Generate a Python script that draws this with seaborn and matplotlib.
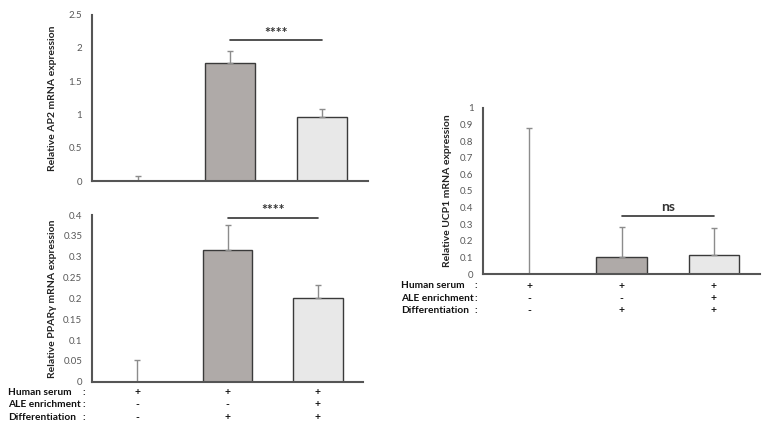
import numpy as np
import pandas as pd
import matplotlib
matplotlib.use("Agg")
import matplotlib.pyplot as plt
import seaborn as sns

# --- Data ---
groups = ["ctrl", "serum", "ale"]
ap2_mean = [0.0, 1.78, 0.97]
ap2_err = [0.08, 0.17, 0.11]
ppar_mean = [0.0, 0.317, 0.200]
ppar_err = [0.052, 0.058, 0.033]
ucp1_mean = [0.0, 0.106, 0.114]
ucp1_err = [0.88, 0.176, 0.166]

row_labels = ["Human serum", "ALE enrichment", "Differentiation"]
row_signs = [["+", "+", "+"], ["-", "-", "+"], ["-", "+", "+"]]

bar_colors = ["#ffffff", "#b0aaa7", "#e8e8e8"]
GREY = "#595959"

sns.set_theme(style="white")
plt.rcParams["font.family"] = ["Lato", "DejaVu Sans"]


def draw_panel(ax, means, errs, ylim, yticks, ylabel, label_x, sig_y, sig_text, text_dy):
    df = pd.DataFrame({"group": groups, "value": means})
    sns.barplot(data=df, x="group", y="value", hue="group", palette=bar_colors,
                width=0.55, edgecolor="#3a3a3a", linewidth=1.0, legend=False, ax=ax)
    # first group has zero height: hide its outline
    ax.patches[0].set_visible(False)
    x = np.arange(len(groups))
    ax.errorbar(x, means, yerr=[np.zeros(len(errs)), errs], fmt="none",
                ecolor="#8c8c8c", elinewidth=1.0, capsize=2.2, capthick=1.0, zorder=1)
    ax.plot([1, 2], [sig_y, sig_y], color="#333333", lw=1.2)
    ax.text(1.5, sig_y + text_dy, sig_text, ha="center", va="bottom",
            fontsize=10, fontweight="bold", color="#333333")
    ax.set_xlim(-0.5, 2.5)
    ax.set_ylim(*ylim)
    ax.set_yticks(yticks)
    ax.set_yticklabels([f"{t:g}" for t in yticks], fontsize=7, color=GREY)
    ax.set_xticks([])
    ax.set_xlabel("")
    ax.set_ylabel(ylabel, fontsize=7.5, fontweight="bold", color="#222222")
    ax.yaxis.set_label_coords(label_x, 0.5)
    ax.tick_params(axis="y", length=0, pad=7)
    sns.despine(ax=ax)
    for s in ["left", "bottom"]:
        ax.spines[s].set_color("#555555")
        ax.spines[s].set_linewidth(1.5)


def draw_table(fig, ax, label_x, colon_x, row_ys):
    for i, (lab, signs) in enumerate(zip(row_labels, row_signs)):
        fig.text(label_x, row_ys[i], lab, fontsize=7.3, fontweight="bold",
                 color="#111111", va="center", ha="left")
        fig.text(colon_x, row_ys[i], ":", fontsize=7.3, fontweight="bold",
                 color="#111111", va="center", ha="center")
        for j, s in enumerate(signs):
            xd = ax.transData.transform((j, 0))[0]
            xf = fig.transFigure.inverted().transform((xd, 0))[0]
            fig.text(xf, row_ys[i], s, fontsize=7.5, fontweight="bold",
                     color="#111111", va="center", ha="center")


fig = plt.figure(figsize=(7.7, 4.29), dpi=100)
ax_top = fig.add_axes([0.1195, 0.578, 0.3585, 0.3877])
ax_bot = fig.add_axes([0.1195, 0.1103, 0.352, 0.3885])
ax_right = fig.add_axes([0.6277, 0.3606, 0.3593, 0.3884])

draw_panel(ax_top, ap2_mean, ap2_err, (0, 2.5), [0, 0.5, 1, 1.5, 2, 2.5],
           "Relative AP2 mRNA expression", -0.127, 2.12, "****", 0.02)
draw_panel(ax_bot, ppar_mean, ppar_err, (0, 0.4), [0, 0.05, 0.1, 0.15, 0.2, 0.25, 0.3, 0.35, 0.4],
           "Relative PPARγ mRNA expression", -0.129, 0.394, "****", 0.003)
draw_panel(ax_right, ucp1_mean, ucp1_err, (0, 1), [0, 0.1, 0.2, 0.3, 0.4, 0.5, 0.6, 0.7, 0.8, 0.9, 1],
           "Relative UCP1 mRNA expression", -0.113, 0.352, "ns", 0.015)

fig.canvas.draw()
draw_table(fig, ax_bot, 8 / 770, 84 / 770, [1 - 392.3 / 429, 1 - 404.5 / 429, 1 - 417.3 / 429])
draw_table(fig, ax_right, 401 / 770, 476 / 770, [1 - 286 / 429, 1 - 298.3 / 429, 1 - 310.7 / 429])

fig.savefig("out.png", dpi=100)
